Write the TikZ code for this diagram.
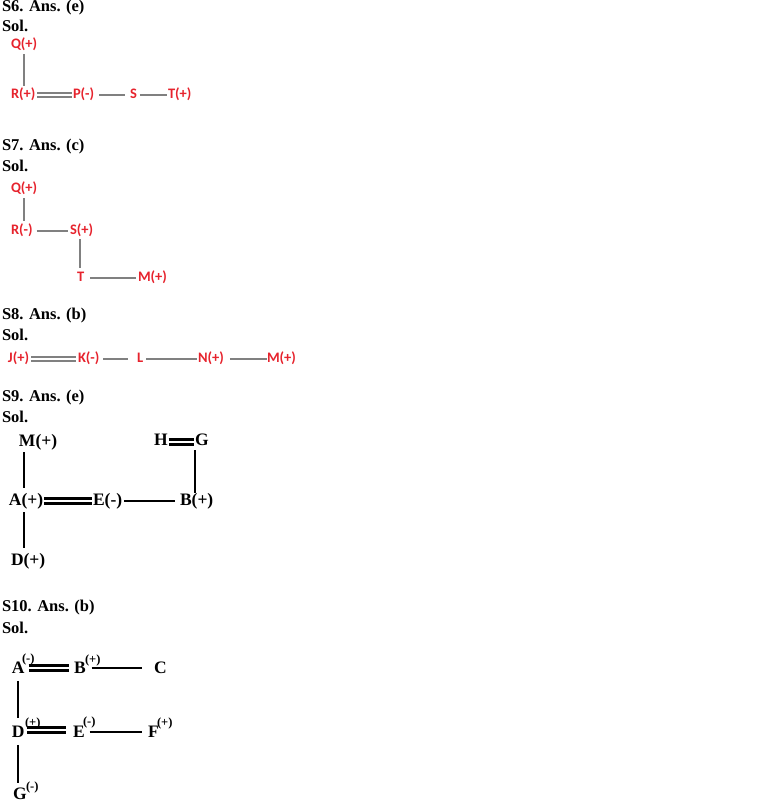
\documentclass[tikz,border=0pt]{standalone}
\usepackage{fontspec}
\setmainfont{Liberation Serif}
\newfontfamily\lblfont{Carlito}
\definecolor{lblred}{RGB}{230,35,45}
\definecolor{lgray}{RGB}{128,128,128}
\begin{document}
\begin{tikzpicture}[x=1pt,y=-1pt,
 every node/.style={inner sep=0pt, outer sep=0pt, anchor=west},
 head/.style={font=\fontsize{16.5}{18}\selectfont\bfseries},
 rl/.style={font=\lblfont\bfseries\fontsize{14.5}{16}\selectfont, text=lblred, text height=10pt, text depth=3pt, yshift=-1.5pt},
 bl/.style={font=\fontsize{17.5}{19}\selectfont\bfseries, text height=12pt, text depth=4pt},
 sl/.style={font=\fontsize{17.5}{19}\selectfont\bfseries},
 sup/.style={font=\fontsize{12.5}{13}\selectfont\bfseries},
 gline/.style={draw=lgray, line width=2pt},
 gdouble/.style={draw=lgray, double=white, double distance=2pt, line width=2pt},
 bline/.style={draw=black, line width=2.3pt},
 bdouble/.style={draw=black, double=white, double distance=2.5pt, line width=2.3pt}]
\useasboundingbox (0,0) rectangle (778,806);

% ---------- S6 ----------
\node[head] (h6) at (2,8) {S6. Ans. (e)};
\node[head] (s6) at (2,26) {Sol.};
\node[rl] (Q6) at (11,43) {Q(+)};
\node[rl] (R6) at (11,93) {R(+)};
\node[rl] (P6) at (73,93) {P(-)};
\node[rl] (S6) at (130,93) {S};
\node[rl] (T6) at (168,93) {T(+)};
\draw[gline, shorten <=3pt, shorten >=2pt] (Q6.south) -- (Q6.south |- R6.north);
\draw[gdouble, shorten <=2pt, shorten >=1pt] (R6.east) -- (P6.west);
\draw[gline, shorten <=5pt, shorten >=5pt] (P6.east) -- (S6.west);
\draw[gline, shorten <=3pt, shorten >=1pt] (S6.east) -- (T6.west);

% ---------- S7 ----------
\node[head] (h7) at (2,147) {S7. Ans. (c)};
\node[head] (s7) at (2,166) {Sol.};
\node[rl] (Q7) at (11,187) {Q(+)};
\node[rl] (R7) at (11,229) {R(-)};
\node[rl] (S7) at (70,229) {S(+)};
\node[rl] (T7) at (77,276) {T};
\node[rl] (M7) at (138,276) {M(+)};
\draw[gline, shorten <=3pt, shorten >=3pt] (Q7.south) -- (Q7.south |- R7.north);
\draw[gline, shorten <=4pt, shorten >=2pt] (R7.east) -- (S7.west);
\draw[gline, shorten <=2pt, shorten >=3pt] ([xshift=-1pt]T7.north |- S7.south) -- ([xshift=-1pt]T7.north);
\draw[gline, shorten <=6pt, shorten >=2pt] (T7.east) -- (M7.west);

% ---------- S8 ----------
\node[head] (h8) at (2,316) {S8. Ans. (b)};
\node[head] (s8) at (2,335) {Sol.};
\node[rl] (J8) at (8,357) {J(+)};
\node[rl] (K8) at (78,357) {K(-)};
\node[rl] (L8) at (137,357) {L};
\node[rl] (N8) at (198,357) {N(+)};
\node[rl] (M8) at (267,357) {M(+)};
\draw[gdouble, shorten <=2pt, shorten >=2pt] (J8.east) -- (K8.west);
\draw[gline, shorten <=4pt, shorten >=9pt] (K8.east) -- (L8.west);
\draw[gline, shorten <=3pt, shorten >=1pt] (L8.east) -- (N8.west);
\draw[gline, shorten <=6pt, shorten >=0pt] (N8.east) -- (M8.west);

% ---------- S9 ----------
\node[head] (h9) at (2,398) {S9. Ans. (e)};
\node[head] (s9) at (2,417) {Sol.};
\node[bl] (M9) at (19,442) {M(+)};
\node[bl] (A9) at (9,501) {A(+)};
\node[bl] (E9) at (93,501) {E(-)};
\node[bl] (B9) at (180,501) {B(+)};
\node[bl] (H9) at (154,441) {H};
\node[bl] (G9) at (195,441) {G};
\node[bl] (D9) at (11,561) {D(+)};
\draw[bline, shorten <=2pt, shorten >=5pt] ([xshift=-2pt]A9.north |- M9.south) -- ([xshift=-2pt]A9.north);
\draw[bdouble, shorten <=1pt, shorten >=1pt] (A9.east) -- (E9.west);
\draw[bline, shorten <=2pt, shorten >=5pt] (E9.east) -- (B9.west);
\draw[bline, shorten <=1pt, shorten >=0pt] ([xshift=-2pt]B9.north |- G9.south) -- ([xshift=-2pt]B9.north);
\draw[bdouble, shorten <=1pt, shorten >=1pt] ([yshift=-1pt]H9.east) -- ([yshift=-1pt]G9.west);
\draw[bline, shorten <=3pt, shorten >=5pt] ([xshift=-2pt]A9.south) -- ([xshift=-2pt]A9.south |- D9.north);

% ---------- S10 ----------
\node[head] (h10) at (2,608) {S10. Ans. (b)};
\node[head] (s10) at (2,628) {Sol.};
\node[sl] (A10) at (12,668) {A};
\node[sup] (A10s) at (22,659) {(-)};
\node[sl] (B10) at (74,668) {B};
\node[sup] (B10s) at (85,660) {(+)};
\node[sl] (C10) at (154,668) {C};
\node[sl] (D10) at (12,732) {D};
\node[sup] (D10s) at (25,723) {(+)};
\node[sl] (E10) at (73,732) {E};
\node[sup] (E10s) at (83,722) {(-)};
\node[sl] (F10) at (148,732) {F};
\node[sup] (F10s) at (157,723) {(+)};
\node[sl] (G10) at (13,794) {G};
\node[sup] (G10s) at (26,787) {(-)};
\draw[bdouble, shorten <=4pt, shorten >=5pt] (A10.east) -- (B10.west);
\draw[bline, shorten <=6pt, shorten >=12pt] (B10.east) -- (C10.west);
\draw[bline, shorten <=7pt, shorten >=8pt] (A10.south) -- (A10.south |- D10.north);
\draw[bdouble, shorten <=2pt, shorten >=7pt] ([yshift=2pt]D10.east) -- ([yshift=2pt]E10.west);
\draw[bline, shorten <=5pt, shorten >=6pt] (E10.east) -- (F10.west);
\draw[bline, shorten <=7pt, shorten >=5pt] (D10.south) -- (D10.south |- G10.north);
\end{tikzpicture}
\end{document}
